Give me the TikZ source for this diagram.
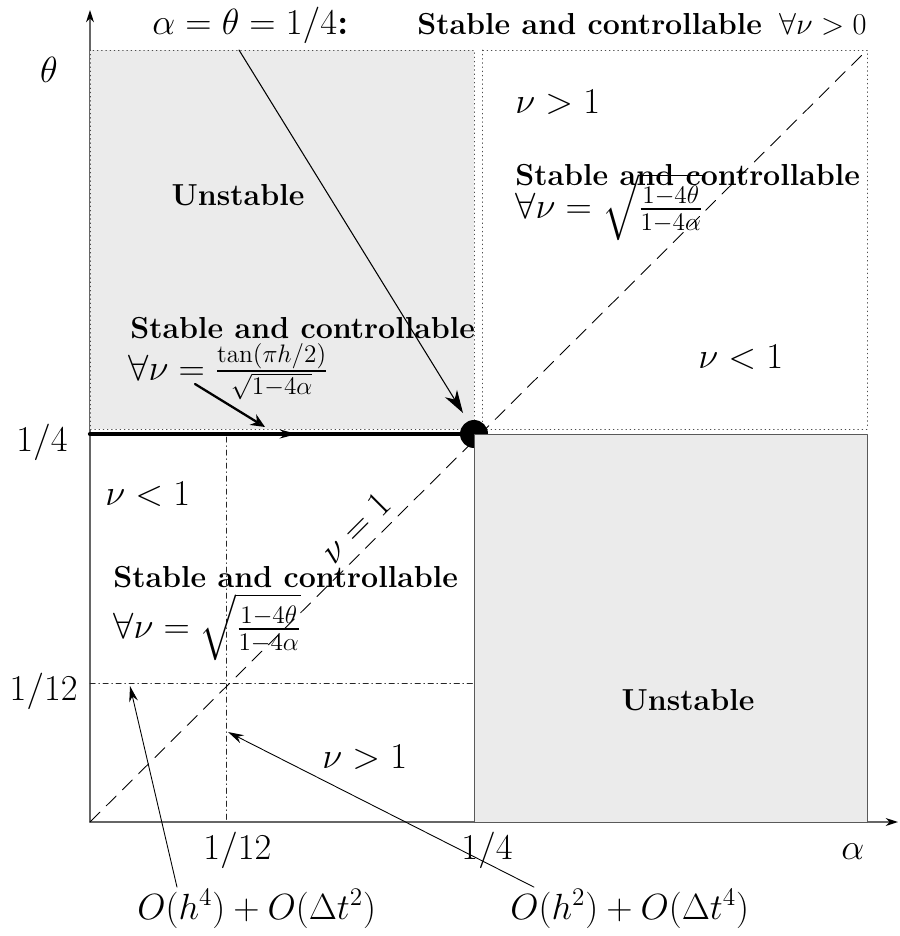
\documentclass[tikz,border=0pt]{standalone}
\usepackage{amsmath,amssymb}
\usepackage{tikz}
\usetikzlibrary{arrows.meta,calc,decorations.markings}

\definecolor{regiongray}{gray}{0.92}

\begin{document}
\begin{tikzpicture}[x=.02cm,y=-.02cm,line cap=round,line join=round,
    every node/.style={font=\huge,inner sep=0pt},
    txt/.style={anchor=base west},
    boldtxt/.style={font=\LARGE\bfseries},
    dotbox/.style={draw=black!70,line width=.4pt,dotted},
    axisline/.style={draw=black!60,line width=.8pt,
      -{Stealth[length=7pt,width=4.5pt,black]}},
    pointer/.style={line width=.5pt,-{Stealth[length=9pt,width=5pt]}},
    bigpointer/.style={line width=.6pt,
      -{Stealth[length=13pt,width=8pt,inset=4pt]}}]
    \useasboundingbox (0,0) rectangle (899,936);
    \coordinate (O) at (90,822);
    \coordinate (Q) at (474,434);

    % axes first, the regions cover them
    \draw[axisline] (O) -- (90,10);
    \draw[axisline] (O) -- (898,822);

    % the two upper regions (dotted borders)
    \draw[dotbox,fill=regiongray] (90,50) rectangle (474,429);
    \draw[dotbox] (482,50) rectangle (867,429);

    % the 1/12 grid lines and the line nu=1
    \draw[black!85,dash dot,line width=.5pt] (226,437) -- (226,822);
    \draw[black!85,dash dot,line width=.5pt] (90,683) -- (474,683);
    \draw[dash pattern=on 8pt off 5pt,line width=.5pt] (O) -- (867,50);

    % theta = 1/4, alpha < 1/4
    \draw[line width=2.4pt,postaction={decorate},decoration={markings,
      mark=at position .54 with {\arrow{Stealth[length=10pt,width=5pt]}}}]
      (90,434) -- (Q);
    \fill (Q) circle[radius=.28cm];
    \draw[fill=regiongray,draw=black!65,line width=.5pt] (Q) rectangle (867,822);

    % top line
    \node[txt] (topeq) at (152,35) {$\alpha=\theta=1/4$\textbf{:}};
    \node[txt,boldtxt] (topsc) at (417,35) {Stable and controllable};
    \node[anchor=base east,font=\LARGE] (topnu) at (867,35) {$\forall\nu>0$};

    % axis labels
    \node[anchor=base] (thetalab) at (49,83) {$\theta$};
    \node[anchor=base east] (yquart) at (68,451) {$1/4$};
    \node[anchor=base east] (ytwelfth) at (78,700) {$1/12$};
    \node[txt] (xtwelfth) at (203,859) {$1/12$};
    \node[txt] (xquart) at (461,859) {$1/4$};
    \node[txt] (alphalab) at (841,859) {$\alpha$};

    % region texts
    \node[anchor=base,boldtxt] (ulun) at (238,205) {Unstable};
    \node[anchor=base,boldtxt] (lrun) at (688,710) {Unstable};
    \node[txt] (urgt) at (515,113) {$\nu>1$};
    \node[txt] (urlt) at (698,368) {$\nu<1$};
    \node[txt] (lllt) at (105,505) {$\nu<1$};
    \node[txt] (llgt) at (322,768) {$\nu>1$};
    \node[txt,boldtxt] (ursc) at (515,185) {Stable and controllable};
    \node[txt] (urnu) at (515,218)
      {$\forall\nu=\sqrt{\frac{1-4\theta}{1-4\alpha}}$};
    \node[txt,boldtxt] (ulsc) at (130,338) {Stable and controllable};
    \node[txt] (ulnu) at (128,380)
      {$\forall\nu=\frac{\tan(\pi h/2)}{\sqrt{1-4\alpha}}$};
    \node[txt,boldtxt] (llsc) at (113,587) {Stable and controllable};
    \node[txt] (llnu) at (113,638)
      {$\forall\nu=\sqrt{\frac{1-4\theta}{1-4\alpha}}$};
    \node[anchor=south,rotate=45,inner sep=3pt] (nuone) at (368,540) {$\nu=1$};

    % error orders
    \node[txt] (ohfour) at (137,919) {$O(h^4)+O(\Delta t^2)$};
    \node[txt] (ohtwo) at (510,919) {$O(h^2)+O(\Delta t^4)$};

    % pointers
    \coordinate (tipA) at (463,413);
    \coordinate (tipB) at (265,427);
    \coordinate (tipC) at (130,686);
    \coordinate (tipD) at (228,732);
    \draw[bigpointer] ($(topeq.base west)+(87,15)$) -- (tipA);
    \draw[line width=1.3pt,-{Stealth[open,length=8pt,width=7pt,fill=white]}]
      ($(ulnu.base west)+(67,4)$) -- (tipB);
    \draw[pointer] ($(ohfour.north west)+(40,-2)$) -- (tipC);
    \draw[pointer] ($(ohtwo.north west)+(24,-2)$) -- (tipD);
\end{tikzpicture}
\end{document}
